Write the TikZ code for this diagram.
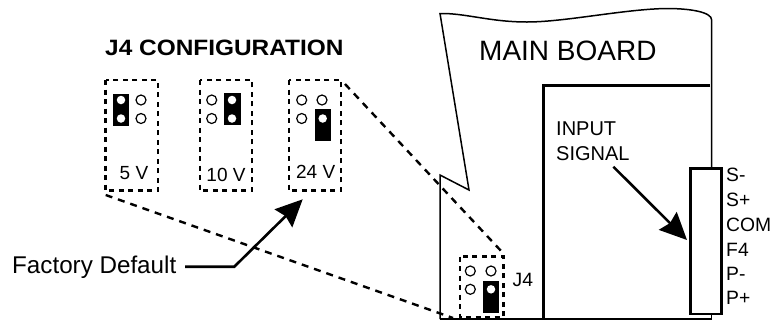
\documentclass[tikz,border=0pt]{standalone}
\usepackage{fontspec}
\setmainfont{Liberation Sans}
\usetikzlibrary{arrows.meta}
\tikzset{
  x=1bp,y=-1bp,
  dashbox/.style={draw,line width=2.7bp,dash pattern=on 5bp off 4.5bp,line cap=butt},
  dashlink/.style={draw,line width=2.4bp,dash pattern=on 7bp off 6bp},
  wall/.style={draw,line width=1.5bp,line join=miter},
  heavy/.style={draw,line width=2.4bp},
  pin/.style={circle,draw,line width=1.2bp,fill=white,minimum size=10bp,inner sep=0pt},
  holed/.style={circle,fill=white,minimum size=8.5bp,inner sep=0pt},
  jumper/.style={fill=black},
  lbl/.style={inner sep=0pt,anchor=base west,font=\fontsize{19.3bp}{22bp}\selectfont},
  vlbl/.style={inner sep=0pt,anchor=base,font=\fontsize{19bp}{22bp}\selectfont},
  pointer/.style={draw,line width=2.6bp,line join=miter,-{Stealth[length=27bp,width=25bp,inset=3bp]}}
}
\newfontfamily\titlefont[FakeStretch=1.1,BoldFont={Liberation Sans Bold}]{Liberation Sans Bold}
\begin{document}
\begin{tikzpicture}
\useasboundingbox (0,0) rectangle (774,320);
\fill[white] (0,0) rectangle (774,320);

% title
\node[inner sep=0pt,anchor=base west,font=\fontsize{22.2bp}{26bp}\titlefont] (title) at (105,55.5) {J4 CONFIGURATION};

% configuration boxes
\draw[dashbox] (105.7,80) rectangle (158,190.7);
\draw[dashbox] (200,80) rectangle (252,190.7);
\draw[dashbox] (289,80) rectangle (341,190.7);

% 5 V
\fill[jumper] (113.3,94) rectangle (129.3,126);
\node[holed] (a1) at (121,100) {};
\node[holed] (a2) at (121,118.5) {};
\node[pin] (a3) at (141,100) {};
\node[pin] (a4) at (141,118.5) {};
\node[vlbl] (v5) at (134,179) {5 V};

% 10 V
\fill[jumper] (224.3,93) rectangle (241.3,125);
\node[pin] (b1) at (211.7,100) {};
\node[pin] (b2) at (211.7,118.5) {};
\node[holed] (b3) at (232,100) {};
\node[holed] (b4) at (232,118.5) {};
\node[vlbl] (v10) at (226,181.5) {10 V};

% 24 V
\fill[jumper] (315.3,109.3) rectangle (331.3,140.7);
\node[pin] (c1) at (301.7,100) {};
\node[pin] (c2) at (322,100) {};
\node[pin] (c3) at (301.7,118.5) {};
\node[holed] (c4) at (322.7,118.5) {};
\node[vlbl] (v24) at (315.7,178) {24 V};

% board outline
\draw[wall] (440,319) -- (440,175) -- (469,190) -- (440,13.5)
  .. controls (465,13) and (490,22) .. (527,22)
  .. controls (565,22) and (625,9) .. (667,8.5)
  .. controls (690,8.5) and (711.7,12) .. (711.7,20)
  -- (711.7,167);
\draw[wall] (440,319) -- (711.7,319) -- (711.7,313);
\draw[heavy] (710,85.5) -- (543.5,85.5) -- (543.5,319);
\node[inner sep=0pt,anchor=base west,font=\fontsize{28bp}{32bp}\selectfont] (main) at (479,60) {MAIN BOARD};

% J4 on the board
\draw[dashbox] (460,256.7) rectangle (503.3,317);
\fill[jumper] (483.3,280.7) rectangle (499.3,312.7);
\node[pin] (d1) at (470.3,271) {};
\node[pin] (d2) at (491,271) {};
\node[pin] (d3) at (470.3,289.3) {};
\node[holed] (d4) at (491,289.3) {};
\node[lbl] (j4) at (512.5,286) {J4};

% dashed projection lines
\coordinate (p1) at (105.7,195);
\coordinate (p2) at (453,318);
\coordinate (q1) at (345,84);
\coordinate (q2) at (502.7,252.7);
\draw[dashlink] (p1) -- (p2);
\draw[dashlink] (q1) -- (q2);

% connector block
\node[draw,line width=2.4bp,inner sep=0pt,minimum width=31bp,minimum height=145.5bp,anchor=north west] (conn) at (689.3,167.3) {};
\node[lbl] (t1) at (726,181.7) {S-};
\node[lbl] (t2) at (726,206.5) {S+};
\node[lbl] (t3) at (726,231.5) {COM};
\node[lbl] (t4) at (726,256) {F4};
\node[lbl] (t5) at (726,280) {P-};
\node[lbl] (t6) at (726,304) {P+};

% input signal
\node[inner sep=0pt,anchor=base west,align=left,font=\fontsize{20bp}{25bp}\selectfont] (input) at (556,160) {INPUT\\SIGNAL};
\coordinate (i1) at (613.3,166.7);
\coordinate (i2) at (687,240);
\draw[pointer] (i1) -- (i2);

% factory default
\node[inner sep=0pt,anchor=base west,font=\fontsize{24.2bp}{28bp}\selectfont] (factory) at (12,273) {Factory Default};
\coordinate (f1) at (185,266.7);
\coordinate (f2) at (234.3,266.7);
\coordinate (f3) at (302.7,199.3);
\draw[pointer] (f1) -- (f2) -- (f3);
\end{tikzpicture}
\end{document}
